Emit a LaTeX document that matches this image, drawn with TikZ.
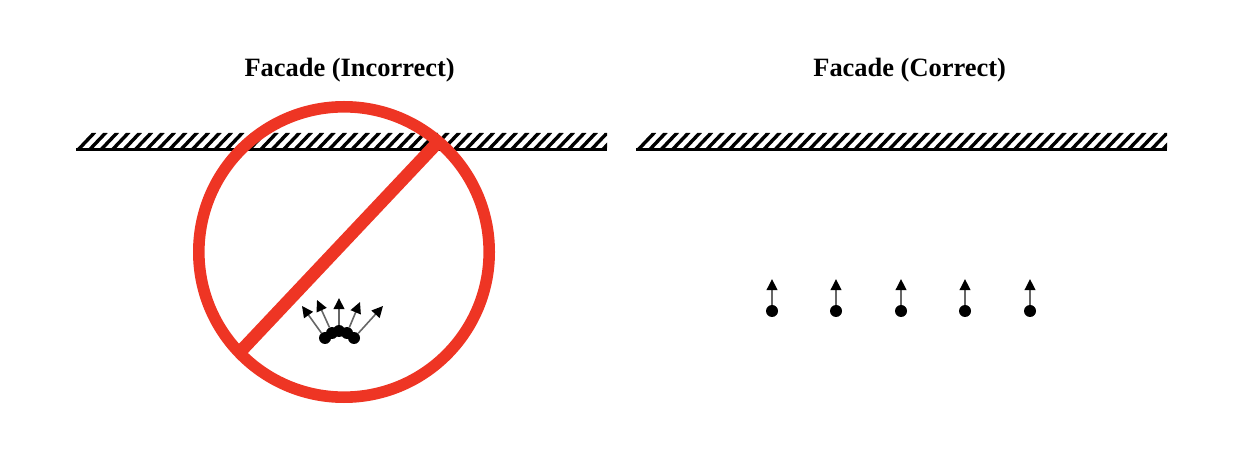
\documentclass[tikz,border=0pt]{standalone}
\usepackage{fontspec}
\setmainfont{Liberation Serif}
\usetikzlibrary{arrows.meta}
\definecolor{signred}{HTML}{EE3524}
\tikzset{
	title/.style={font=\fontsize{18.8}{22}\selectfont\bfseries},
	dot/.style={circle, fill=black, inner sep=0pt, minimum size=3mm},
	force/.style={-{Triangle[length=2.8mm, width=2.7mm, color=black, fill=black]}, line width=0.4mm, color=black!60},
	hatch/.style={line width=0.85mm},
	ground/.style={line width=0.75mm}
}
\begin{document}
\begin{tikzpicture}
			\useasboundingbox (0, 0) rectangle (31.175, 11.4);
			
			%%%%% TITLES %%%%%
			\node[title] (titleleft) at (8.74, 9.65) {Facade (Incorrect)};
			\node[title] (titleright) at (22.74, 9.65) {Facade (Correct)};
			
			%%%%% WALLS %%%%%
			\foreach \start in {1.9, 15.9} {
				\begin{scope}
					\clip (\start, 7.66) -- ++(13.275, 0) -- ++(0, 0.415) -- ++(-13.0, 0) -- cycle;
					\foreach \i in {0,...,47} {
						\draw[hatch] ({\start+\i*0.285}, 7.6) -- ++(0.475, 0.5);
					}
				\end{scope}
				\draw[ground] (\start, 7.66) -- ++(13.275, 0);
			}
			
			%%%%% LEFT %%%%%
			\node[dot] (a1) at (8.125, 2.95) {};
			\node[dot] (a2) at (8.3, 3.075) {};
			\node[dot] (a3) at (8.475, 3.125) {};
			\node[dot] (a4) at (8.675, 3.075) {};
			\node[dot] (a5) at (8.85, 2.95) {};
			\coordinate (ta1) at (7.55, 3.75);
			\coordinate (ta2) at (7.925, 3.9);
			\coordinate (ta3) at (8.475, 3.95);
			\coordinate (ta4) at (9.0, 3.85);
			\coordinate (ta5) at (9.575, 3.75);
			\foreach \i in {1,...,5} {
				\draw[force] (a\i) -- (ta\i);
			}
			
			\draw[line width=2.9mm, color=signred] (8.6, 5.1) circle (3.63);
			\draw[line width=3.2mm, color=signred] (6.0, 2.6) -- (11.0, 7.9);
			
			%%%%% RIGHT %%%%%
			\foreach \i/\x in {1/19.3, 2/20.9, 3/22.525, 4/24.125, 5/25.75} {
				\node[dot] (b\i) at (\x, 3.625) {};
				\coordinate (tb\i) at (\x, 4.425);
				\draw[force] (b\i) -- (tb\i);
			}
\end{tikzpicture}
\end{document}
